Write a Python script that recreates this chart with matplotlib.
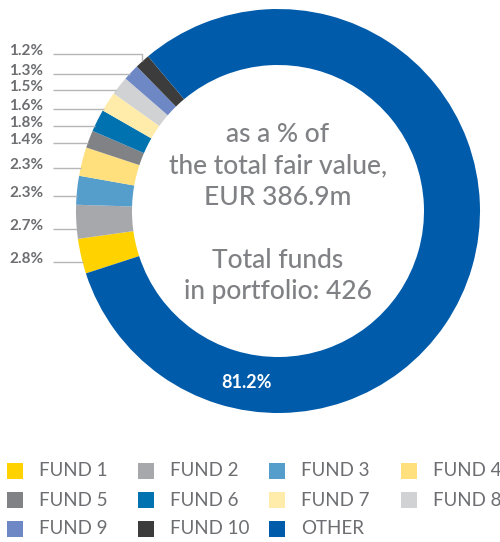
import numpy as np
import matplotlib.pyplot as plt
from matplotlib.patches import Rectangle

# Portfolio split by fund (% of total fair value)
FUNDS = ["FUND 1", "FUND 2", "FUND 3", "FUND 4", "FUND 5",
         "FUND 6", "FUND 7", "FUND 8", "FUND 9", "FUND 10", "OTHER"]
SHARES = [2.8, 2.7, 2.3, 2.3, 1.4, 1.8, 1.6, 1.5, 1.3, 1.2, 81.2]
COLORS = ["#FFD200", "#A7A8AC", "#559DCB", "#FFE07D", "#808285",
          "#0072B0", "#FFECAA", "#D1D2D4", "#6E88C6", "#3C3C3C", "#005BAA"]
TOTAL_FAIR_VALUE = 386.9   # EUR m
TOTAL_FUNDS = 426

# Layout (pixels, y measured from the top)
W, H = 500, 542
CX, CY = 278, 211
R_OUT, RING = 202, 56
START_ANGLE = 198
LABEL_Y = [262, 229, 196, 168, 143, 126, 109, 90, 74, 54]
LABEL_X, LINE_X0 = 43, 53
TEXT_GREY = "#6D6E71"
LINE_GREY = "#B5B6B8"

plt.rcParams["font.family"] = ["Lato", "DejaVu Sans"]

fig = plt.figure(figsize=(W / 100, H / 100), dpi=100)
ax = fig.add_axes([0, 0, 1, 1])
ax.axis("off")


def py(y):
    # top-based pixel row -> data y
    return H - y


wedges, _ = ax.pie(SHARES, colors=COLORS, startangle=START_ANGLE, counterclock=False,
                   center=(CX, py(CY)), radius=R_OUT,
                   wedgeprops=dict(width=RING, linewidth=0))
ax.set_xlim(0, W)
ax.set_ylim(0, H)
ax.set_aspect("equal")

# leader lines + percentage labels for the ten named funds
for i, w in enumerate(wedges[:-1]):
    t1, t2 = sorted([w.theta1, w.theta2])
    ly = LABEL_Y[i]
    dy = py(ly) - py(CY)
    ang = np.degrees(np.arctan2(dy, -np.sqrt(max(R_OUT ** 2 - dy ** 2, 0)))) % 360
    if t1 <= ang <= t2:
        # the row meets its own slice: straight line
        xe = CX - np.sqrt(R_OUT ** 2 - dy ** 2)
        xs, ys = [LINE_X0, xe], [py(ly), py(ly)]
    else:
        # otherwise bend down onto the slice midpoint
        mid = np.radians((t1 + t2) / 2)
        mx = CX + R_OUT * np.cos(mid)
        my = py(CY) + R_OUT * np.sin(mid)
        xs, ys = [LINE_X0, mx, mx], [py(ly), py(ly), my]
    ax.plot(xs, ys, color=LINE_GREY, lw=1.0, solid_capstyle="butt")
    ax.text(LABEL_X, py(ly) + 3, f"{SHARES[i]:.1f}%", ha="right", va="center",
            fontsize=11, fontweight="bold", color=TEXT_GREY)

# value on the large slice
ax.text(247, py(383), f"{SHARES[-1]:.1f}%", ha="center", va="center",
        fontsize=13, fontweight="bold", color="white")

# centre caption
center_lines = ["as a % of", "the total fair value,", f"EUR {TOTAL_FAIR_VALUE}m",
                "", "Total funds", f"in portfolio: {TOTAL_FUNDS}"]
for k, line in enumerate(center_lines):
    ax.text(CX, py(142 + 31.5 * k), line, ha="center", va="baseline",
            fontsize=19, fontweight="medium", color="#808184")

# legend grid
col_x = [7, 138, 269, 401]
row_y = [471, 500, 529]
for i, (name, c) in enumerate(zip(FUNDS, COLORS)):
    r, cidx = divmod(i, 4)
    x, y = col_x[cidx], row_y[r]
    ax.add_patch(Rectangle((x, py(y) - 8), 16, 16, color=c, lw=0))
    ax.text(x + 32, py(y), name, ha="left", va="center",
            fontsize=13.5, color=TEXT_GREY)

fig.savefig("out.png", dpi=100)
